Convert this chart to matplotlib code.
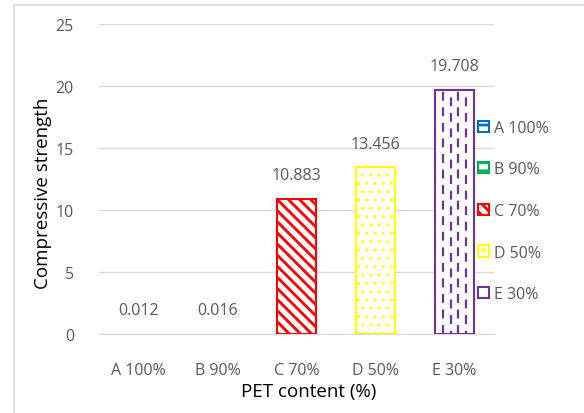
import matplotlib
matplotlib.use('Agg')
import matplotlib.pyplot as plt
from matplotlib.patches import Rectangle
import numpy as np

# PET replacement mixes and their compressive strength
mixes = ['A 100%', 'B 90%', 'C 70%', 'D 50%', 'E 30%']
strength = [0.012, 0.016, 10.883, 13.456, 19.708]
edge_colors = ['#0070C0', '#00B050', '#FF0000', '#FFFF00', '#7030A0']
hatches = ['+', '--', '\\\\\\', '..', '']

plt.rcParams['font.family'] = ['Open Sans', 'DejaVu Sans']
plt.rcParams['hatch.linewidth'] = 2.0
grey = '#595959'

fig = plt.figure(figsize=(5.84, 4.14), dpi=100)
ax = fig.add_axes([99 / 584, 79 / 414, 395 / 584, 310 / 414])

x = np.arange(len(mixes))
bars = ax.bar(x, strength, width=0.5, color='white', edgecolor=edge_colors, linewidth=1.5, zorder=3)
for bar, h, c in zip(bars, hatches, edge_colors):
    bar.set_hatch(h)
    bar.set_edgecolor(c)
# finer dots for D
if hasattr(bars[3], 'set_hatch_linewidth'):
    bars[3].set_hatch_linewidth(1.0)

# dashed vertical fill for the last bar
eb = bars[-1]
x0, w, top = eb.get_x(), eb.get_width(), eb.get_height()
for i, xi in enumerate(np.linspace(x0, x0 + w, 6)[1:-1]):
    ln = ax.vlines(xi, 0, top, colors=edge_colors[-1], linewidth=1.6,
                   linestyles=[(2.5 * (i % 2), (4, 3))], zorder=4)
    ln.set_clip_path(eb)

for xi, v in zip(x, strength):
    ax.annotate(f'{v:.3f}', (xi, v), xytext=(0, 17), textcoords='offset points',
                ha='center', va='center', fontsize=11.5, color=grey)

ax.set_xlim(-0.5, len(mixes) - 0.5)
ax.set_ylim(0, 25)
ax.set_yticks(range(0, 26, 5))
ax.set_xticks(x)
ax.set_xticklabels(mixes)
ax.tick_params(length=0, labelsize=11.5, labelcolor=grey)
ax.tick_params(axis='y', pad=18)
ax.tick_params(axis='x', pad=20)
ax.grid(axis='y', color='#D9D9D9', linewidth=1, zorder=0)
for side in ['top', 'right', 'left']:
    ax.spines[side].set_visible(False)
ax.spines['bottom'].set_color('#D9D9D9')

fig.text(309 / 584, 1 - 392 / 414, 'PET content (%)', ha='center', va='center',
         fontsize=13.5, color='black')
fig.text(43 / 584, 1 - 193 / 414, 'Compressive strength', rotation=90,
         ha='center', va='center', fontsize=13.5, color='black')

ax.legend(bars, mixes, loc='center left', bbox_to_anchor=(470 / 584, 1 - 212 / 414),
          bbox_transform=fig.transFigure, frameon=False, fontsize=11.5,
          labelcolor=grey, handlelength=0.7, handleheight=0.7,
          handletextpad=0.3, labelspacing=1.6, borderpad=0)

# the near-zero bars show no outline on the baseline
for bar in bars[:2]:
    bar.set_linewidth(0)

fig.add_artist(Rectangle((14 / 584, -0.1), 1.1, 1.1 - 6 / 414, transform=fig.transFigure,
                         fill=False, edgecolor='#D9D9D9', linewidth=1.2))

fig.savefig('out.png', dpi=100)
